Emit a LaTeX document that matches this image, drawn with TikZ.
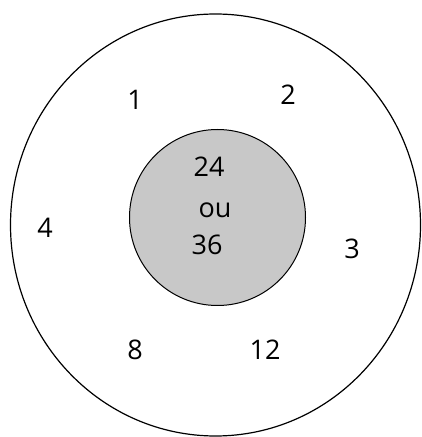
\documentclass[tikz,border=0pt]{standalone}
\usepackage{fontspec}
\setmainfont{Open Sans}
\usetikzlibrary{calc}

\begin{document}
\begin{tikzpicture}[x=1pt, y=1pt,
    numlabel/.style={inner sep=0pt, font=\fontsize{27}{30}\selectfont}]
        \useasboundingbox (0,0) rectangle (422,437);

        % Draw outer ellipse
        \draw[line width=1.2pt] (215.5,212) ellipse [x radius=205, y radius=211];

        % Draw inner disc
        \draw[fill={rgb,255:red,200;green,200;blue,200}, line width=1pt] (217.5,219.5) circle (88);

        % Draw numbers outside
        \node[numlabel] (one) at (135,337) {1};
        \node[numlabel] (two) at (288,342) {2};
        \node[numlabel] (four) at (45,209) {4};
        \node[numlabel] (three) at (352,188) {3};
        \node[numlabel] (eight) at (135,87) {8};
        \node[numlabel] (twelve) at (265,87) {12};

        % Draw numbers inside
        \node[numlabel] (tf) at (209,270) {24};
        \node[numlabel] (ou) at (215,227) {ou};
        \node[numlabel] (ts) at (207,192) {36};
    \end{tikzpicture}
\end{document}
